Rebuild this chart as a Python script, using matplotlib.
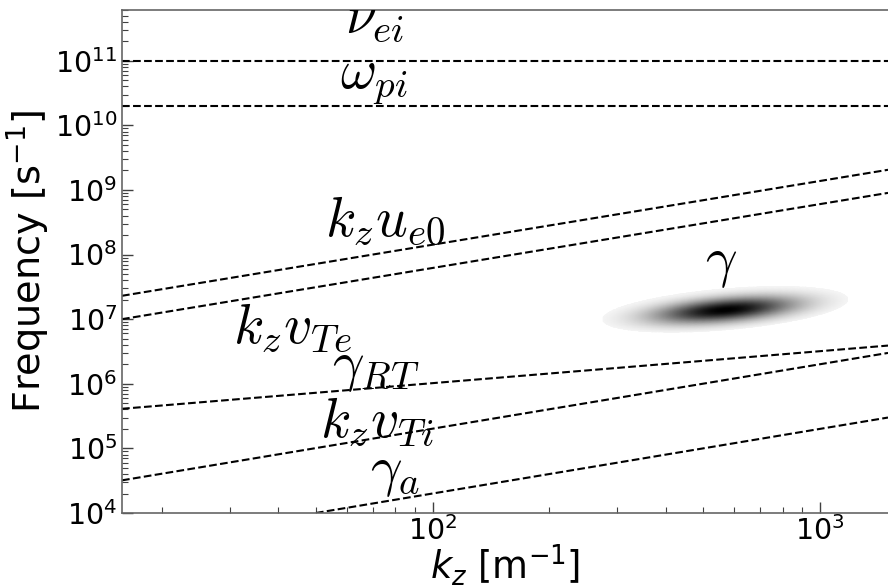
import matplotlib
matplotlib.use('Agg')
import numpy as np
import matplotlib.pyplot as plt

# axis range
k_lim = [15.8, 1497.0]
f_lim = [1e4, 6.1e11]

# endpoints of each straight (log-log) line, [left, right]
k_ends = [15.8, 1497.0]
nu_ei = [1.0e11, 1.0e11]
omega_pi = [2.0e10, 2.0e10]
kz_ue0 = [2.3e7, 2.05e9]
kz_vTe = [1.0e7, 9.0e8]
gamma_RT = [4.1e5, 3.9e6]
kz_vTi = [3.2e4, 3.0e6]
k_ends_a = [50.0, 1497.0]
gamma_a = [1.0e4, 3.0e5]

# growth-rate blob: centre, widths (decades), tilt
blob_k0, blob_f0 = 569.0, 1.42e7
blob_sk, blob_sf, blob_tilt = 0.125, 0.125, 0.49

# label text and anchor (k, f)
labels = [r'$\nu_{ei}$', r'$\omega_{pi}$', r'$k_z u_{e0}$', r'$k_z v_{Te}$',
          r'$\gamma_{RT}$', r'$k_z v_{Ti}$', r'$\gamma_a$', r'$\gamma$']
label_k = [59.4, 57.8, 52.8, 30.6, 55.1, 51.3, 69.0, 505.0]
label_f = [2.7e11, 3.8e10, 2.0e8, 4.4e6, 1.15e6, 1.5e5, 2.7e4, 4.67e7]

fig = plt.figure(figsize=(8.88, 5.88), dpi=100)
ax = fig.add_axes([0.1374, 0.1276, 0.8626, 0.8554])
ax.set_xscale('log')
ax.set_yscale('log')

# blob
u = np.linspace(np.log10(blob_k0) - 0.45, np.log10(blob_k0) + 0.45, 300)
v = np.linspace(np.log10(blob_f0) - 0.9, np.log10(blob_f0) + 0.9, 300)
U, V = np.meshgrid(u, v)
du = U - np.log10(blob_k0)
dv = V - np.log10(blob_f0) - blob_tilt * du
Z = np.exp(-0.5 * (du / blob_sk) ** 2 - 0.5 * (dv / blob_sf) ** 2)
Z = np.ma.masked_less(Z, 0.04)
ax.pcolormesh(10 ** U, 10 ** V, Z, cmap='gray_r', vmin=0, vmax=1,
              shading='gouraud', rasterized=True, zorder=1)

for ys in [nu_ei, omega_pi, kz_ue0, kz_vTe, gamma_RT, kz_vTi]:
    ax.plot(k_ends, ys, 'k--', lw=1.5, zorder=2)
ax.plot(k_ends_a, gamma_a, 'k--', lw=1.5, zorder=2)

for s, kx, fy in zip(labels, label_k, label_f):
    ax.text(kx, fy, s, fontsize=40, math_fontfamily='cm',
            ha='left', va='baseline', clip_on=True)

ax.set_xlim(k_lim)
ax.set_ylim(f_lim)
ax.set_xlabel(r'$k_z$ [m$^{-1}$]', fontsize=26.5, labelpad=-2)
ax.set_ylabel(r'Frequency [s$^{-1}$]', fontsize=27.5, labelpad=2)

ax.tick_params(which='both', direction='in', labelsize=20.5, color='0.25')
ax.tick_params(which='major', length=8, width=1)
ax.tick_params(which='minor', length=4, width=0.8)
ax.tick_params(axis='x', pad=2)
for sp in ax.spines.values():
    sp.set_color('0.4')
    sp.set_linewidth(1.2)
ax.spines['right'].set_visible(False)

plt.savefig('out.png', dpi=100)
